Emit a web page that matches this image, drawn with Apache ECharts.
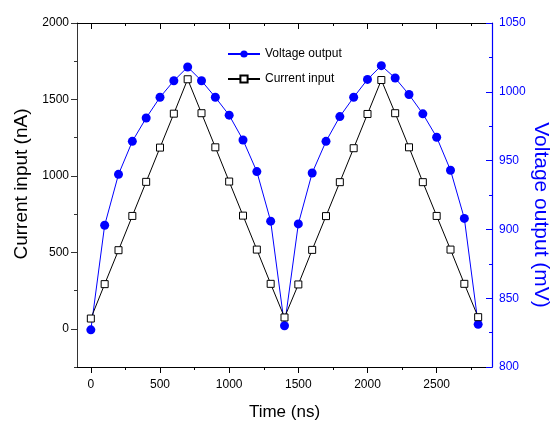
<!DOCTYPE html>
<html>
<head>
<meta charset="utf-8">
<script src="https://cdn.jsdelivr.net/npm/echarts@6/dist/echarts.min.js"></script>
<style>
  html, body { margin: 0; padding: 0; background: #fff; }
  #chart { width: 550px; height: 422px; }
</style>
</head>
<body>
<div id="chart"></div>
<script>
// time points (ns)
const timeNs = [0, 100, 200, 300, 400, 500, 600, 700, 800, 900, 1000, 1100, 1200, 1300, 1400,
  1500, 1600, 1700, 1800, 1900, 2000, 2100, 2200, 2300, 2400, 2500, 2600, 2700, 2800];

// voltage output (mV), right axis
const voltageOutput = [827, 903, 940, 964, 981, 996, 1008, 1018, 1008, 996, 983, 965, 942, 906, 830,
  904, 941, 964, 982, 996, 1009, 1019, 1010, 998, 984, 967, 943, 908, 831];

// current input (nA), left axis
const currentInput = [67, 292, 514, 738, 961, 1185, 1407, 1632, 1410, 1187, 963, 740, 518, 294, 74,
  290, 516, 737, 959, 1181, 1405, 1627, 1410, 1187, 959, 738, 518, 294, 76];

const xMajor = [0, 500, 1000, 1500, 2000, 2500];
const xMinor = [250, 750, 1250, 1750, 2250, 2750];
const yLeftMajor = [0, 500, 1000, 1500, 2000];
const yLeftMinor = [-250, 250, 750, 1250, 1750];

const chart = echarts.init(document.getElementById("chart"));
const font = "Liberation Sans, Arial, sans-serif";
const plain = (v) => String(v);

const option = {
  animation: false,
  textStyle: { fontFamily: font },
  grid: { left: 77, right: 58, top: 23, bottom: 55, outerBoundsMode: "none", containLabel: false },
  legend: {
    orient: "vertical",
    left: 222,
    top: 43,
    itemWidth: 32,
    itemHeight: 9,
    itemGap: 13,
    textStyle: { fontSize: 12, color: "#000", fontFamily: font },
    data: ["Voltage output", "Current input"],
  },
  xAxis: [
    {
      type: "value",
      position: "bottom",
      min: -100,
      max: 2900,
      name: "Time (ns)",
      nameLocation: "middle",
      nameGap: 37,
      nameTextStyle: { fontSize: 17, color: "#000" },
      axisLine: { onZero: false, lineStyle: { color: "#000", width: 1 } },
      axisTick: { customValues: xMajor, length: 6, lineStyle: { color: "#000" } },
      axisLabel: { customValues: xMajor, formatter: plain, fontSize: 12, color: "#000", margin: 12 },
      splitLine: { show: false },
    },
    {
      type: "value",
      position: "bottom",
      min: -100,
      max: 2900,
      axisLine: { show: false, onZero: false },
      axisTick: { customValues: xMinor, length: 3, lineStyle: { color: "#000" } },
      axisLabel: { show: false },
      splitLine: { show: false },
    },
    {
      type: "value",
      position: "top",
      min: -100,
      max: 2900,
      axisLine: { onZero: false, lineStyle: { color: "#000", width: 1 } },
      axisTick: { customValues: xMajor, inside: true, length: 6, lineStyle: { color: "#000" } },
      axisLabel: { show: false },
      splitLine: { show: false },
    },
    {
      type: "value",
      position: "top",
      min: -100,
      max: 2900,
      axisLine: { show: false, onZero: false },
      axisTick: { customValues: xMinor, inside: true, length: 3, lineStyle: { color: "#000" } },
      axisLabel: { show: false },
      splitLine: { show: false },
    },
  ],
  yAxis: [
    {
      type: "value",
      position: "left",
      min: -250,
      max: 2000,
      name: "Current input (nA)",
      nameLocation: "middle",
      nameGap: 46,
      nameMoveOverlap: false,
      nameTextStyle: { fontSize: 19, color: "#000", padding: [0, 0, 0, 22] },
      axisLine: { show: true, onZero: false, lineStyle: { color: "#333", width: 1 } },
      axisTick: { show: true, customValues: yLeftMajor, length: 6, lineStyle: { color: "#333" } },
      axisLabel: { customValues: yLeftMajor, formatter: plain, fontSize: 12, color: "#000", margin: 8 },
      splitLine: { show: false },
    },
    {
      type: "value",
      position: "right",
      min: 800,
      max: 1050,
      interval: 50,
      name: "Voltage output (mV)",
      nameLocation: "middle",
      nameRotate: -90,
      nameGap: 38,
      nameMoveOverlap: false,
      nameTextStyle: { fontSize: 21, color: "#0000ff", padding: [0, 0, 0, 40] },
      axisLine: { show: true, onZero: false, lineStyle: { color: "#0000ff", width: 1.2 } },
      axisTick: { show: true, inside: true, length: 6, lineStyle: { color: "#0000ff" } },
      minorTick: { show: true, splitNumber: 2, length: 3, lineStyle: { color: "#0000ff" } },
      axisLabel: { formatter: plain, fontSize: 12, color: "#0000ff", margin: 7 },
      splitLine: { show: false },
    },
    {
      type: "value",
      position: "left",
      min: -250,
      max: 2000,
      axisLine: { show: false, onZero: false },
      axisTick: { show: true, customValues: yLeftMinor, length: 3, lineStyle: { color: "#333" } },
      axisLabel: { show: false },
      splitLine: { show: false },
    },
  ],
  series: [
    {
      name: "Voltage output",
      type: "line",
      xAxisIndex: 0,
      yAxisIndex: 1,
      data: timeNs.map((t, i) => [t, voltageOutput[i]]),
      symbol: "circle",
      symbolSize: 9,
      lineStyle: { color: "#0000ff", width: 1 },
      itemStyle: { color: "#0000ff" },
    },
    {
      name: "Current input",
      type: "line",
      xAxisIndex: 0,
      yAxisIndex: 0,
      data: timeNs.map((t, i) => [t, currentInput[i]]),
      symbol: "rect",
      symbolSize: 7,
      lineStyle: { color: "#000", width: 1 },
      itemStyle: { color: "#fff", borderColor: "#000", borderWidth: 1 },
    },
  ],
};

chart.setOption(option);
</script>
</body>
</html>
